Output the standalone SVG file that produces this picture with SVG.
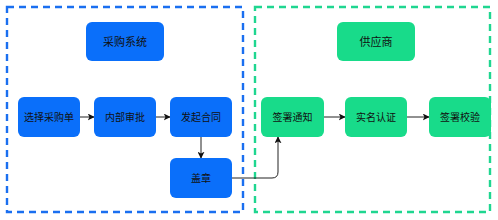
<svg xmlns="http://www.w3.org/2000/svg" width="498" height="220" viewBox="0 0 498 220">
<defs>
<style>
.cb{fill:none;stroke:#1a6ff0;stroke-width:2.4;stroke-dasharray:7,5}
.cg{fill:none;stroke:#1fd690;stroke-width:2.4;stroke-dasharray:7,5}
.nb{fill:#0a6ffa}
.ng{fill:#18db8a}
.t{font-family:"Liberation Sans","Noto Sans CJK SC",sans-serif;font-size:10px;fill:#111;text-anchor:middle;dominant-baseline:central}
.h{font-size:11px}
.e{fill:none;stroke:#222;stroke-width:1}
</style>
<marker id="ah" viewBox="0 0 10 10" refX="9" refY="5" markerWidth="7" markerHeight="7" orient="auto" markerUnits="userSpaceOnUse">
<path d="M0,0 L10,5 L0,10 L2.5,5 z" fill="#111"/>
</marker>
</defs>
<rect width="498" height="220" fill="#fff"/>
<g id="container-purchase"><rect class="cb" x="7" y="7" width="236" height="205"/></g>
<g id="container-supplier"><rect class="cg" x="255" y="7" width="235" height="205"/></g>

<g id="connectors">
<path class="e" d="M80,117 H94" marker-end="url(#ah)"/>
<path class="e" d="M156,117 H170" marker-end="url(#ah)"/>
<path class="e" d="M201,137 V158" marker-end="url(#ah)"/>
<path class="e" d="M232,178 H272 Q278,178 278,172 V137" marker-end="url(#ah)"/>
<path class="e" d="M324,117 H345" marker-end="url(#ah)"/>
<path class="e" d="M407,117 H429" marker-end="url(#ah)"/>
</g>

<g id="n-caigou"><rect class="nb" x="86" y="22" width="78" height="39" rx="6"/><text class="t h" x="125" y="42">采购系统</text></g>
<g id="n-xuanze"><rect class="nb" x="18" y="97" width="62" height="40" rx="6"/><text class="t" x="49" y="117">选择采购单</text></g>
<g id="n-neibu"><rect class="nb" x="94" y="97" width="62" height="40" rx="6"/><text class="t" x="125" y="117">内部审批</text></g>
<g id="n-faqi"><rect class="nb" x="170" y="97" width="62" height="40" rx="6"/><text class="t" x="201" y="117">发起合同</text></g>
<g id="n-gaizhang"><rect class="nb" x="170" y="158" width="62" height="40" rx="6"/><text class="t" x="201" y="178">盖章</text></g>

<g id="n-gongying"><rect class="ng" x="337" y="22" width="78" height="39" rx="6"/><text class="t h" x="376" y="42">供应商</text></g>
<g id="n-tongzhi"><rect class="ng" x="261" y="97" width="63" height="40" rx="6"/><text class="t" x="292.5" y="117">签署通知</text></g>
<g id="n-shiming"><rect class="ng" x="345" y="97" width="62" height="40" rx="6"/><text class="t" x="376" y="117">实名认证</text></g>
<g id="n-jiaoyan"><rect class="ng" x="429" y="97" width="62" height="40" rx="6"/><text class="t" x="460" y="117">签署校验</text></g>
</svg>
